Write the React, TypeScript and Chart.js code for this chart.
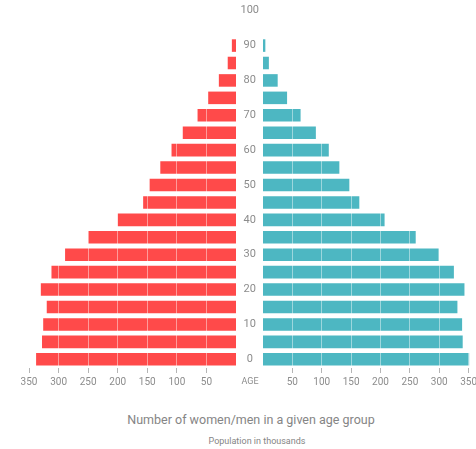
import React, { useEffect, useRef } from "react";
import { Chart, registerables } from "chart.js";

Chart.register(...registerables);
Chart.defaults.font.family = "Roboto";

// Age groups (5-year steps); 95 and 100 have no bar
const ageLabels = ["0", "5", "10", "15", "20", "25", "30", "35", "40", "45", "50", "55", "60", "65", "70", "75", "80", "85", "90", "95", "100"];
// Population in thousands
const women = [338, 328, 326, 320, 330, 312, 289, 250, 200, 157, 146, 128, 109, 90, 65, 47, 29, 14, 7, null, null];
const men = [351, 340, 339, 331, 343, 325, 299, 260, 207, 164, 147, 130, 112, 90, 64, 41, 25, 10, 4, null, null];
const axisMax = 350;
const axisStep = 50;

const RED = "#ff4a4a";
const TEAL = "#4db7c2";
const TEXT = "#8c8c8c";

const xAxis = (reverse: boolean) => ({
  type: "linear" as const,
  min: 0,
  max: axisMax,
  reverse,
  ticks: { stepSize: axisStep, color: TEXT, font: { size: 10 }, padding: 3, maxRotation: 0 },
  grid: { color: "rgba(255,255,255,0.45)", z: 1, tickLength: 5, tickColor: "#b5b5b5" },
  border: { display: false },
  afterBuildTicks: (s: any) => {
    s.ticks = s.ticks.filter((t: any) => t.value !== 0);
  },
  afterFit: (s: any) => {
    s.height = 30;
  },
});

const ageTitle = {
  id: "ageTitle",
  afterDraw(chart: any) {
    const { ctx, chartArea } = chart;
    ctx.save();
    ctx.font = "9px Roboto";
    ctx.fillStyle = TEXT;
    ctx.textAlign = "center";
    ctx.textBaseline = "middle";
    ctx.fillText("AGE", chartArea.left - 13, chartArea.bottom + 14);
    ctx.restore();
  },
};

export default function App() {
  const leftRef = useRef<HTMLCanvasElement>(null);
  const rightRef = useRef<HTMLCanvasElement>(null);

  useEffect(() => {
    const left = new Chart(leftRef.current!, {
      type: "bar",
      data: {
        labels: ageLabels,
        datasets: [{ label: "Women", data: women as any, backgroundColor: RED, borderWidth: 0, clip: false as any }],
      },
      options: {
        indexAxis: "y",
        animation: false,
        responsive: true,
        maintainAspectRatio: false,
        layout: { padding: { top: 17, left: 29, right: 4, bottom: 0 } },
        plugins: { legend: { display: false }, tooltip: { enabled: false } },
        scales: {
          x: xAxis(true) as any,
          y: { type: "category", display: false, reverse: true },
        },
      },
    });
    const right = new Chart(rightRef.current!, {
      type: "bar",
      data: {
        labels: ageLabels,
        datasets: [{ label: "Men", data: men as any, backgroundColor: TEAL, borderWidth: 0, clip: false as any }],
      },
      options: {
        indexAxis: "y",
        animation: false,
        responsive: true,
        maintainAspectRatio: false,
        layout: { padding: { top: 17, left: 0, right: 10, bottom: 0 } },
        plugins: { legend: { display: false }, tooltip: { enabled: false } },
        scales: {
          x: xAxis(false) as any,
          y: {
            type: "category",
            position: "left",
            reverse: true,
            grid: { display: false, drawTicks: false },
            border: { display: false },
            ticks: {
              autoSkip: false,
              crossAlign: "center",
              padding: 4,
              color: TEXT,
              font: { size: 11 },
              callback: (_v: any, i: number) => (i % 2 === 0 ? ageLabels[i] : ""),
            },
            afterFit: (s: any) => {
              s.width = 27;
            },
          } as any,
        },
      },
      plugins: [ageTitle],
    });
    return () => {
      left.destroy();
      right.destroy();
    };
  }, []);

  return (
    <div style={{ position: "fixed", left: 0, top: 0, width: 476, height: 449, overflow: "hidden", background: "#fff", fontFamily: "Roboto" }}>
      <div style={{ position: "absolute", left: 0, top: -15, width: 240, height: 413 }}>
        <canvas ref={leftRef} />
      </div>
      <div style={{ position: "absolute", left: 236, top: -15, width: 244, height: 413 }}>
        <canvas ref={rightRef} />
      </div>
      <div style={{ position: "absolute", left: 51, top: 412, width: 400, textAlign: "center", fontSize: 12.5, lineHeight: "16px", color: "#858585" }}>
        Number of women/men in a given age group
      </div>
      <div style={{ position: "absolute", left: 157, top: 435, width: 200, textAlign: "center", fontSize: 9, lineHeight: "12px", color: "#858585" }}>
        Population in thousands
      </div>
    </div>
  );
}
